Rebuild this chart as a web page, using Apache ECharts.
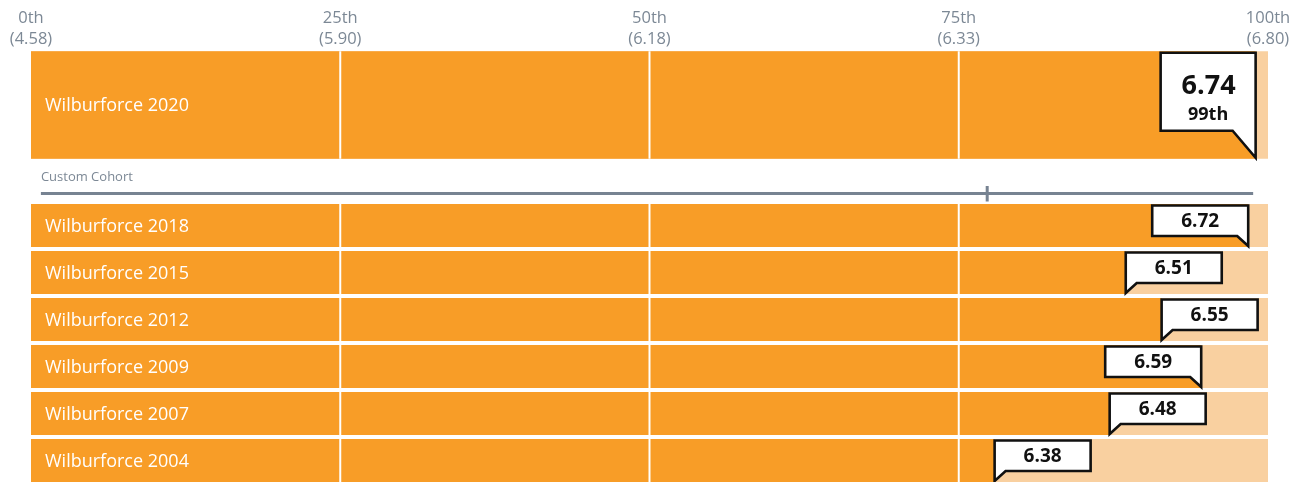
<!DOCTYPE html>
<html>
<head>
<meta charset="utf-8">
<script src="https://cdn.jsdelivr.net/npm/echarts@6/dist/echarts.min.js"></script>
<style>
  html, body { margin: 0; padding: 0; background: #ffffff; }
  #chart { width: 1303px; height: 482px; }
</style>
</head>
<body>
<div id="chart"></div>
<script>
// Percentile scale ticks and the score at each tick
const pctTicks = [0, 25, 50, 75, 100];
const pctTickLabels = ['0th', '25th', '50th', '75th', '100th'];
const pctTickScores = ['4.58', '5.90', '6.18', '6.33', '6.80'];

// Headline result
const headlineNames = ['Wilburforce 2020'];
const headlineScores = [6.74];
const headlinePcts = [99];

// Comparison cohort: span and marker position (percentiles)
const cohortName = 'Custom Cohort';
const cohortRange = [0.8, 98.8];
const cohortMarkerPct = 77.3;

// Earlier results
const pastNames = ['Wilburforce 2018', 'Wilburforce 2015', 'Wilburforce 2012',
                   'Wilburforce 2009', 'Wilburforce 2007', 'Wilburforce 2004'];
const pastScores = [6.72, 6.51, 6.55, 6.59, 6.48, 6.38];
const pastPcts = [98.4, 88.5, 91.4, 94.6, 87.2, 77.9];

const ORANGE = '#F89D27';
const PEACH = '#F9D0A0';
const GREY = '#7C8895';
const FONT = '"Open Sans", "Noto Sans", sans-serif';

function ordinal(n) {
  const r = Math.round(n), t = r % 100, u = r % 10;
  if (t >= 11 && t <= 13) return r + 'th';
  return r + (u === 1 ? 'st' : u === 2 ? 'nd' : u === 3 ? 'rd' : 'th');
}

function makeRowRenderer(names, scores, big) {
  return function (params, api) {
    const row = api.value(0);
    const pct = api.value(1);
    const band = api.size([0, 1])[1];
    const h = big ? band - 0.5 : band - 4;
    const c0 = api.coord([0, row]);
    const c100 = api.coord([100, row]);
    const tip = api.coord([pct, row]);
    const top = c0[1] - h / 2;
    const bottom = c0[1] + h / 2;
    const kids = [];

    kids.push({ type: 'rect', shape: { x: c0[0], y: top, width: c100[0] - c0[0], height: h },
                style: { fill: PEACH } });
    kids.push({ type: 'rect', shape: { x: c0[0], y: top, width: tip[0] - c0[0], height: h },
                style: { fill: ORANGE } });
    pctTicks.slice(1, -1).forEach(function (p) {
      const g = api.coord([p, row]);
      kids.push({ type: 'rect', shape: { x: g[0] - 1, y: top, width: 2, height: h },
                  style: { fill: '#ffffff' } });
    });
    kids.push({ type: 'text', style: {
      text: names[row], x: c0[0] + 14, y: c0[1] + 1,
      fill: '#ffffff', fontSize: 18, fontFamily: FONT,
      align: 'left', verticalAlign: 'middle' } });

    // value callout with a pointer to the bar end
    const bw = big ? 95 : 96;
    const bh = big ? 78 : 30.5;
    const tw = big ? 23 : 11;
    const bTop = top + 1.5;
    const bBot = bTop + bh;
    const tipY = bottom - 1;
    const x = tip[0];
    const boxOnLeft = x + bw > c100[0];
    let pts, cx;
    if (boxOnLeft) {
      pts = [[x - bw, bTop], [x, bTop], [x, tipY], [x - tw, bBot], [x - bw, bBot]];
      cx = x - bw / 2;
    } else {
      pts = [[x, bTop], [x + bw, bTop], [x + bw, bBot], [x + tw, bBot], [x, tipY]];
      cx = x + bw / 2;
    }
    kids.push({ type: 'polygon', shape: { points: pts },
                style: { fill: '#ffffff', stroke: '#111111', lineWidth: 2.6, lineJoin: 'miter' } });
    if (big) {
      kids.push({ type: 'text', style: {
        text: scores[row].toFixed(2), x: cx + 0.5, y: bTop + 34, fill: '#111111',
        fontSize: 27, fontWeight: 'bold', fontFamily: FONT, align: 'center', verticalAlign: 'middle' } });
      kids.push({ type: 'text', style: {
        text: ordinal(pct), x: cx, y: bTop + 62, fill: '#111111',
        fontSize: 18, fontWeight: 'bold', fontFamily: FONT, align: 'center', verticalAlign: 'middle' } });
    } else {
      kids.push({ type: 'text', style: {
        text: scores[row].toFixed(2), x: cx, y: bTop + bh / 2 + 1, fill: '#111111',
        fontSize: 19, fontWeight: 'bold', fontFamily: FONT, align: 'center', verticalAlign: 'middle' } });
    }
    return { type: 'group', children: kids };
  };
}

function renderCohort(params, api) {
  const a = api.coord([api.value(0), 0]);
  const b = api.coord([api.value(2), 0]);
  const m = api.coord([api.value(3), 0]);
  const gTop = api.coord([0, 1])[1];
  const lineY = a[1] - 10.5;
  return { type: 'group', children: [
    { type: 'text', style: { text: cohortName, x: a[0], y: gTop + 17, fill: GREY,
      fontSize: 13, fontFamily: FONT, align: 'left', verticalAlign: 'middle' } },
    { type: 'line', shape: { x1: a[0], y1: lineY, x2: b[0], y2: lineY },
      style: { stroke: '#778392', lineWidth: 3 } },
    { type: 'line', shape: { x1: m[0], y1: lineY - 7.5, x2: m[0], y2: lineY + 8 },
      style: { stroke: '#778392', lineWidth: 3 } }
  ] };
}

const hiddenValueX = { type: 'value', min: 0, max: 100, show: false };
const gridBase = { left: 31, right: 35, containLabel: false, outerBoundsMode: 'none' };

const option = {
  animation: false,
  grid: [
    Object.assign({ top: 51, height: 108 }, gridBase),
    Object.assign({ top: 160, height: 44 }, gridBase),
    Object.assign({ top: 202, height: 282 }, gridBase)
  ],
  xAxis: [
    {
      gridIndex: 0, type: 'value', position: 'top', min: 0, max: 100, interval: 25,
      axisLine: { show: false }, axisTick: { show: false }, splitLine: { show: false },
      axisLabel: {
        show: true, showMinLabel: true, showMaxLabel: true, margin: 1,
        color: GREY, fontSize: 16.5, lineHeight: 21, fontFamily: FONT,
        formatter: function (v) {
          const i = pctTicks.indexOf(v);
          return i < 0 ? '' : pctTickLabels[i] + '\n(' + pctTickScores[i] + ')';
        }
      }
    },
    Object.assign({ gridIndex: 1 }, hiddenValueX),
    Object.assign({ gridIndex: 2 }, hiddenValueX)
  ],
  yAxis: [
    { gridIndex: 0, type: 'category', data: headlineNames, show: false, inverse: true },
    { gridIndex: 1, type: 'value', min: 0, max: 1, show: false },
    { gridIndex: 2, type: 'category', data: pastNames, show: false, inverse: true }
  ],
  series: [
    {
      type: 'custom', xAxisIndex: 0, yAxisIndex: 0,
      encode: { y: 0, x: 1 },
      data: headlinePcts.map(function (p, i) { return [i, p]; }),
      renderItem: makeRowRenderer(headlineNames, headlineScores, true)
    },
    {
      type: 'custom', xAxisIndex: 1, yAxisIndex: 1,
      encode: { x: [0, 2, 3], y: 1 },
      data: [[cohortRange[0], 0, cohortRange[1], cohortMarkerPct]],
      renderItem: renderCohort
    },
    {
      type: 'custom', xAxisIndex: 2, yAxisIndex: 2,
      encode: { y: 0, x: 1 },
      data: pastPcts.map(function (p, i) { return [i, p]; }),
      renderItem: makeRowRenderer(pastNames, pastScores, false)
    }
  ]
};

const chart = echarts.init(document.getElementById('chart'), null, { renderer: 'canvas' });
chart.setOption(option);
</script>
</body>
</html>
